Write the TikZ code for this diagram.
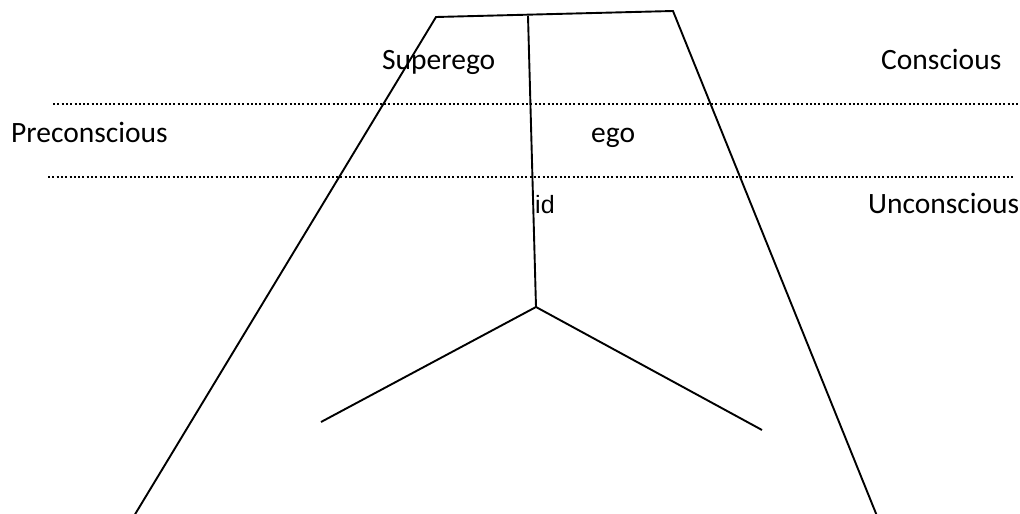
\documentclass[tikz,border=0pt]{standalone}
\usepackage{fontspec}
\setmainfont{Carlito}
\newfontfamily\idfont{Liberation Sans}

\tikzset{
  level/.style={line width=2.2pt, dash pattern=on 2pt off 2.3pt},
  part/.style={line width=1.9pt},
  tag/.style={anchor=base west, inner sep=0pt, font=\fontsize{29.5}{34}\selectfont}
}

\begin{document}
\begin{tikzpicture}[x=1pt,y=-1pt]
        \useasboundingbox (0,0) rectangle (1020,514);
        % corners of the outline
        \coordinate (topleft) at (436,17);
        \coordinate (topright) at (673,11);
        \coordinate (footleft) at (134,516);
        \coordinate (footright) at (877,516);
        \coordinate (stemtop) at (528,16);
        \coordinate (fork) at (536,307);
        \coordinate (armleft) at (321,422);
        \coordinate (armright) at (762,430);
        \draw[part] (footleft) -- (topleft) -- (topright) -- (footright);
        \draw[part] (stemtop) -- (fork);
        \draw[part] (armleft) -- (fork) -- (armright);
        % levels
        \coordinate (lvlaw) at (53,104);
        \coordinate (lvlae) at (1020,104);
        \coordinate (lvlbw) at (48,177);
        \coordinate (lvlbe) at (1013,177);
        \draw[level] (lvlaw) -- (lvlae);
        \draw[level] (lvlbw) -- (lvlbe);
        % labels
        \node[tag] (superego) at (382,69) {Superego};
        \node[tag] (conscious) at (881,69) {Conscious};
        \node[tag] (preconscious) at (11,142) {Preconscious};
        \node[tag] (ego) at (591,142) {ego};
        \node[tag, font=\idfont\fontsize{25}{30}\selectfont] (id) at (535,213) {id};
        \node[tag] (unconscious) at (868,213) {Unconscious};
\end{tikzpicture}
\end{document}
